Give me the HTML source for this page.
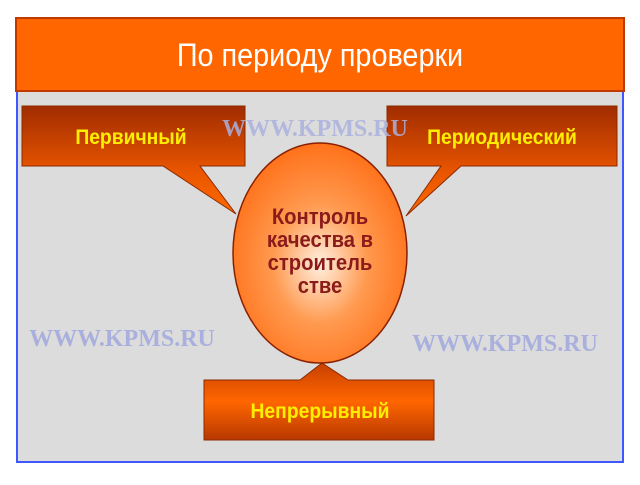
<!DOCTYPE html>
<html><head><meta charset="utf-8"><style>
body{margin:0;background:#fff;width:640px;height:480px;overflow:hidden}
</style></head><body>
<svg width="640" height="480" viewBox="0 0 640 480" xmlns="http://www.w3.org/2000/svg" font-family="'Liberation Sans', sans-serif">
<defs>
<linearGradient id="cb" x1="0" y1="0" x2="0" y2="1">
<stop offset="0" stop-color="#a02c00"/><stop offset="0.6" stop-color="#e85500"/><stop offset="1" stop-color="#ff6a00"/>
</linearGradient>
<linearGradient id="bb" x1="0" y1="0" x2="0" y2="1">
<stop offset="0" stop-color="#c84000"/><stop offset="0.5" stop-color="#ff6600"/><stop offset="1" stop-color="#b83800"/>
</linearGradient>
<radialGradient id="eg" cx="0.5" cy="0.55" r="0.6">
<stop offset="0" stop-color="#fff0e0"/><stop offset="0.45" stop-color="#ff9a50"/><stop offset="1" stop-color="#ff6a10"/>
</radialGradient>
</defs>
<rect x="17" y="91" width="606" height="371" fill="#dcdcdc" stroke="#3f57ff" stroke-width="2"/>
<rect x="16" y="18" width="608" height="73" fill="#ff6600" stroke="#c03a00" stroke-width="2"/>
<text x="320" y="66" font-size="32" fill="#fff" text-anchor="middle" transform="translate(320 0) scale(0.9 1) translate(-320 0)">По периоду проверки</text>
<path d="M22 106 H245 V166 H200 L236 214 L163 166 H22 Z" fill="url(#cb)" stroke="#8a2a00" stroke-width="1"/>
<path d="M387 106 H617 V166 H461 L406 216 L441 166 H387 Z" fill="url(#cb)" stroke="#8a2a00" stroke-width="1"/>
<g font-family="'Liberation Serif', serif" font-weight="bold" font-size="24" fill="#aab0dd">
<text x="315" y="136" text-anchor="middle" fill-opacity="0.85">WWW.KPMS.RU</text>
<text x="122" y="346" text-anchor="middle">WWW.KPMS.RU</text>
<text x="505" y="351" text-anchor="middle">WWW.KPMS.RU</text>
</g>
<path d="M204 380 H300 L322 363 L348 380 H434 V440 H204 Z" fill="url(#bb)" stroke="#8a2a00" stroke-width="1"/>
<ellipse cx="320" cy="253" rx="87" ry="110" fill="url(#eg)" stroke="#8a2000" stroke-width="1.5"/>
<g font-weight="bold" font-size="21" fill="#ffee00" text-anchor="middle">
<text x="131" y="144" transform="translate(131 0) scale(0.92 1) translate(-131 0)">Первичный</text>
<text x="502" y="144" transform="translate(502 0) scale(0.92 1) translate(-502 0)">Периодический</text>
<text x="320" y="418" transform="translate(320 0) scale(0.92 1) translate(-320 0)">Непрерывный</text>
</g>
<g font-weight="bold" font-size="22" fill="#8b1a1a" text-anchor="middle" transform="translate(320 0) scale(0.92 1) translate(-320 0)">
<text x="320" y="224">Контроль</text>
<text x="320" y="247">качества в</text>
<text x="320" y="270">строитель</text>
<text x="320" y="293">стве</text>
</g>
</svg>
</body></html>
